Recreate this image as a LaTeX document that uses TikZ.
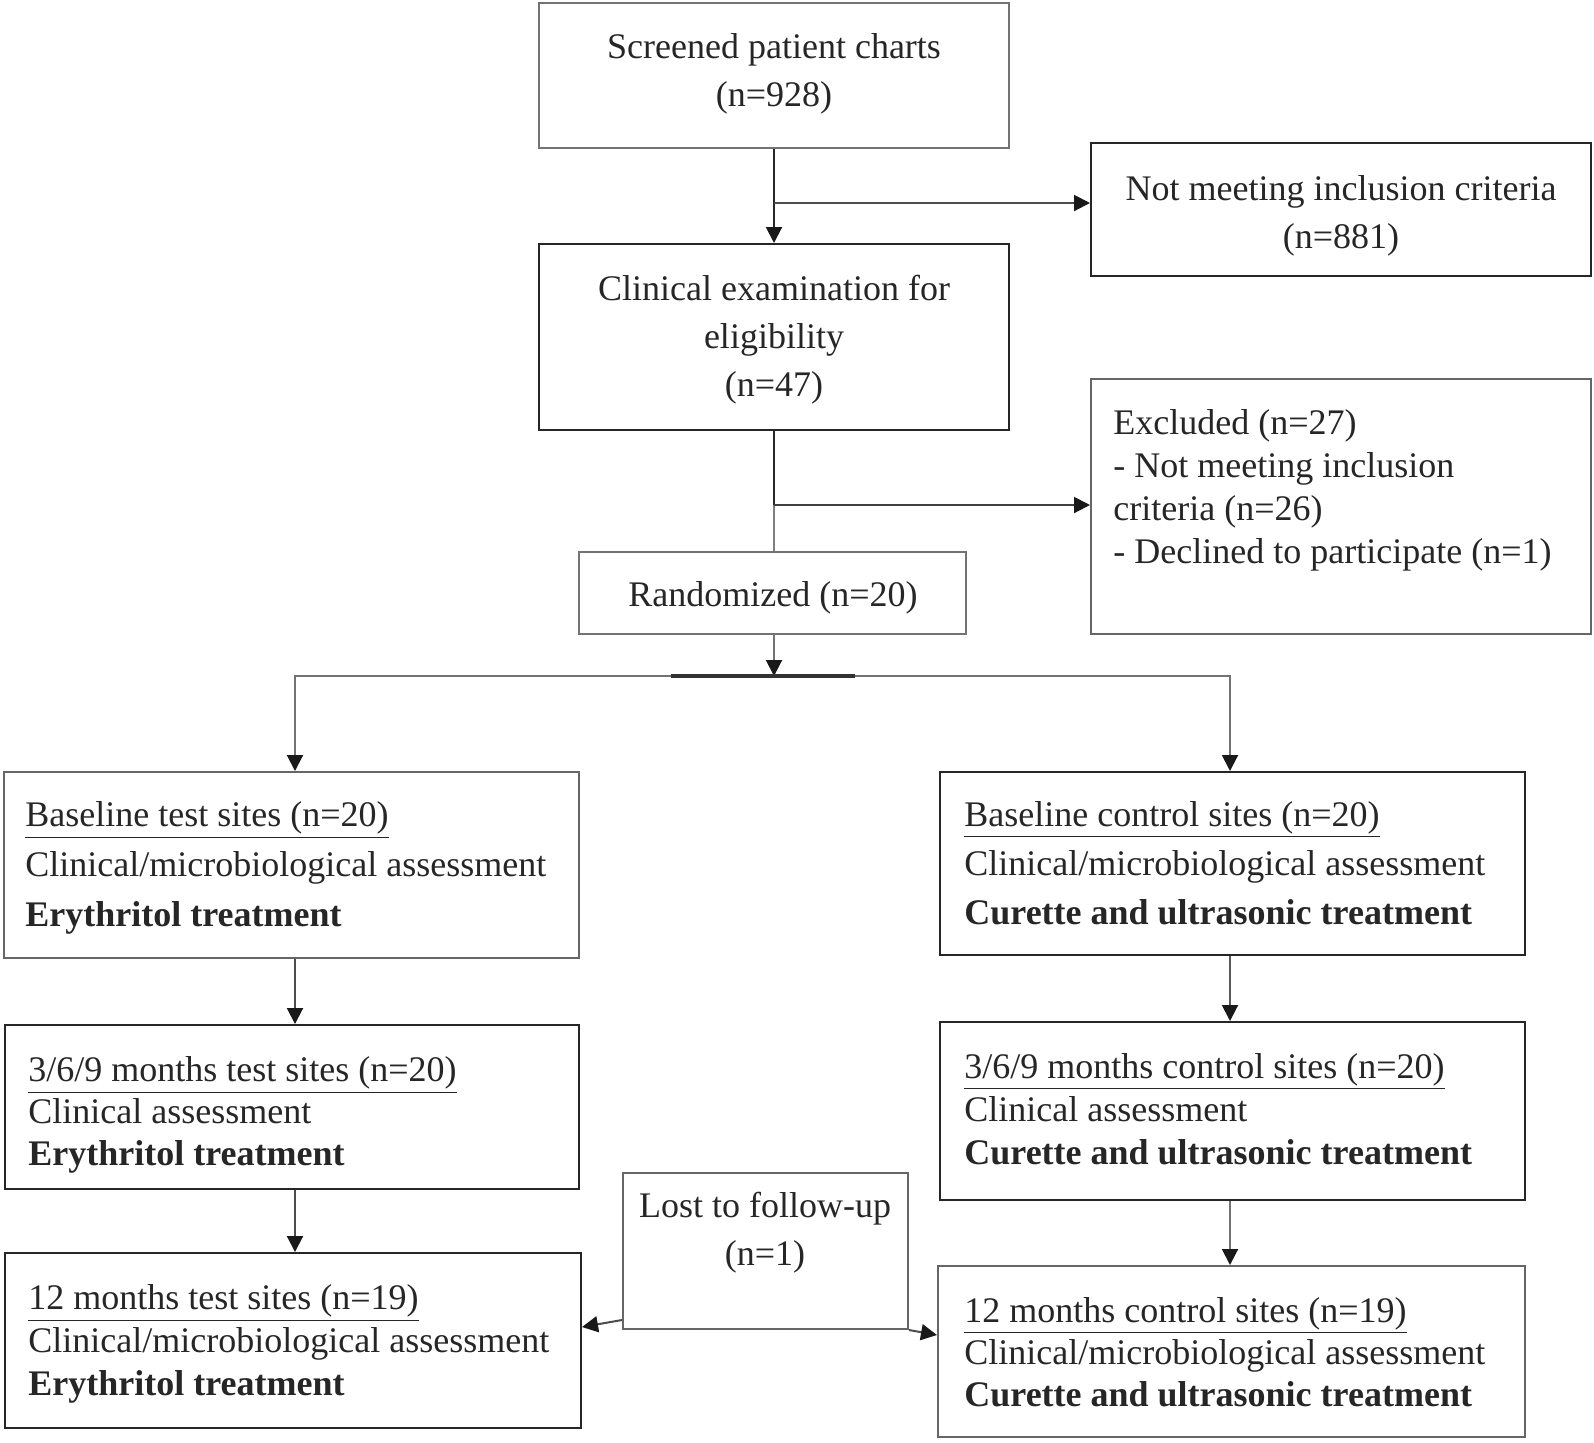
\documentclass[tikz,border=0pt]{standalone}
\usepackage{fontspec}
\setmainfont{Liberation Serif}
\usetikzlibrary{arrows.meta,fit}
\begin{document}
\begin{tikzpicture}[x=0.5pt,y=-0.5pt,
  box/.style={draw=#1, line width=1pt, inner sep=0pt},
  box/.default=black!85,
  txt/.style={text=black!85, inner sep=0pt, font=\fontsize{18}{24}\selectfont},
  ltxt/.style={txt, anchor=west, align=left},
  conn/.style={line width=1pt, draw=#1},
  conn/.default=black!85,
  arr/.style={-{Triangle[length=8pt,width=8pt,color=black!90]}}]
\useasboundingbox (0,0) rectangle (1594,1442);
% boxes
\node[box=black!55, fit={(539,3)(1009,148)}] (scr) {};
\node[box, fit={(1091,143)(1591,276)}] (nmi) {};
\node[box, fit={(539,244)(1009,430)}] (cli) {};
\node[box=black!60, fit={(1091,379)(1591,634)}] (exc) {};
\node[box=black!55, fit={(579,552)(966,634)}] (ran) {};
\node[box=black!60, fit={(4,772)(579,958)}] (bt) {};
\node[box, fit={(940,772)(1525,955)}] (bc) {};
\node[box, fit={(5,1025)(579,1189)}] (mt) {};
\node[box, fit={(940,1022)(1525,1200)}] (mc) {};
\node[box=black!60, fit={(623,1173)(908,1329)}] (lost) {};
\node[box, fit={(5,1253)(581,1428)}] (ft) {};
\node[box=black!60, fit={(938,1266)(1525,1437)}] (fc) {};
% texts
\node[txt, align=center] (scr-t) at (774,74) {Screened patient charts\\(n=928)};
\node[txt, align=center] (nmi-t) at (1341,216) {Not meeting inclusion criteria\\(n=881)};
\node[txt, align=center, font=\fontsize{18}{24}\selectfont] (cli-t) at (774,340) {Clinical examination for\\eligibility\\(n=47)};
\node[ltxt, font=\fontsize{18}{21.5}\selectfont] (exc-t) at (1113,490) {Excluded (n=27)\\- Not meeting inclusion\\criteria (n=26)\\- Declined to participate (n=1)};
\node[txt] (ran-t) at (773,598) {Randomized (n=20)};
\node[ltxt, font=\fontsize{18}{25}\selectfont] (bt-t) at (25,868) {\underline{Baseline test sites (n=20)}\\Clinical/microbiological assessment\\\textbf{Erythritol treatment}};
\node[ltxt, font=\fontsize{18}{24.5}\selectfont] (bc-t) at (964,863) {\underline{Baseline control sites (n=20)}\\Clinical/microbiological assessment\\\textbf{Curette and ultrasonic treatment}};
\node[ltxt, font=\fontsize{18}{21}\selectfont] (mt-t) at (28,1115) {\underline{3/6/9 months test sites (n=20)}\\Clinical assessment\\\textbf{Erythritol treatment}};
\node[ltxt, font=\fontsize{18}{21.5}\selectfont] (mc-t) at (964,1109) {\underline{3/6/9 months control sites (n=20)}\\Clinical assessment\\\textbf{Curette and ultrasonic treatment}};
\node[txt, align=center] (lost-t) at (765,1233) {Lost to follow-up\\(n=1)};
\node[ltxt, font=\fontsize{18}{21.5}\selectfont] (ft-t) at (28,1344) {\underline{12 months test sites (n=19)}\\Clinical/microbiological assessment\\\textbf{Erythritol treatment}};
\node[ltxt, font=\fontsize{18}{21}\selectfont] (fc-t) at (964,1352) {\underline{12 months control sites (n=19)}\\Clinical/microbiological assessment\\\textbf{Curette and ultrasonic treatment}};
% connectors
\coordinate (j1) at (774,203);
\coordinate (j2) at (774,505);
\coordinate (sp) at (774,676);
\coordinate (sl) at (295,676);
\coordinate (sr) at (1230,676);
\draw[conn, arr] (scr.south) -- (cli.north);
\draw[conn=black!70, arr] (j1) -- (j1 -| nmi.west);
\draw[conn] (cli.south) -- (j2);
\draw[conn=black!50] (j2) -- (j2 |- ran.north);
\draw[conn=black!75, arr] (j2) -- (j2 -| exc.west);
\draw[conn=black!55, arr] (ran.south -| sp) -- (sp);
\draw[conn=black!55, arr] (sp) -| (sl |- bt.north);
\draw[conn=black!55, arr] (sp) -| (sr |- bc.north);
\draw[conn=black!80, line width=1.6pt] (671,676) -- (855,676);
\draw[conn=black!70, arr] (bt.south -| sl) -- (mt.north -| sl);
\draw[conn=black!70, arr] (mt.south -| sl) -- (ft.north -| sl);
\draw[conn=black!65, arr] (bc.south -| sr) -- (mc.north -| sr);
\draw[conn=black!55, arr] (mc.south -| sr) -- (fc.north -| sr);
\draw[conn=black!70, arr] ([yshift=5pt]lost.south west) -- ([yshift=6.75pt]ft.east);
\draw[conn=black!70, arr] (lost.south east) -- ([yshift=8.25pt]fc.west);
\end{tikzpicture}
\end{document}
